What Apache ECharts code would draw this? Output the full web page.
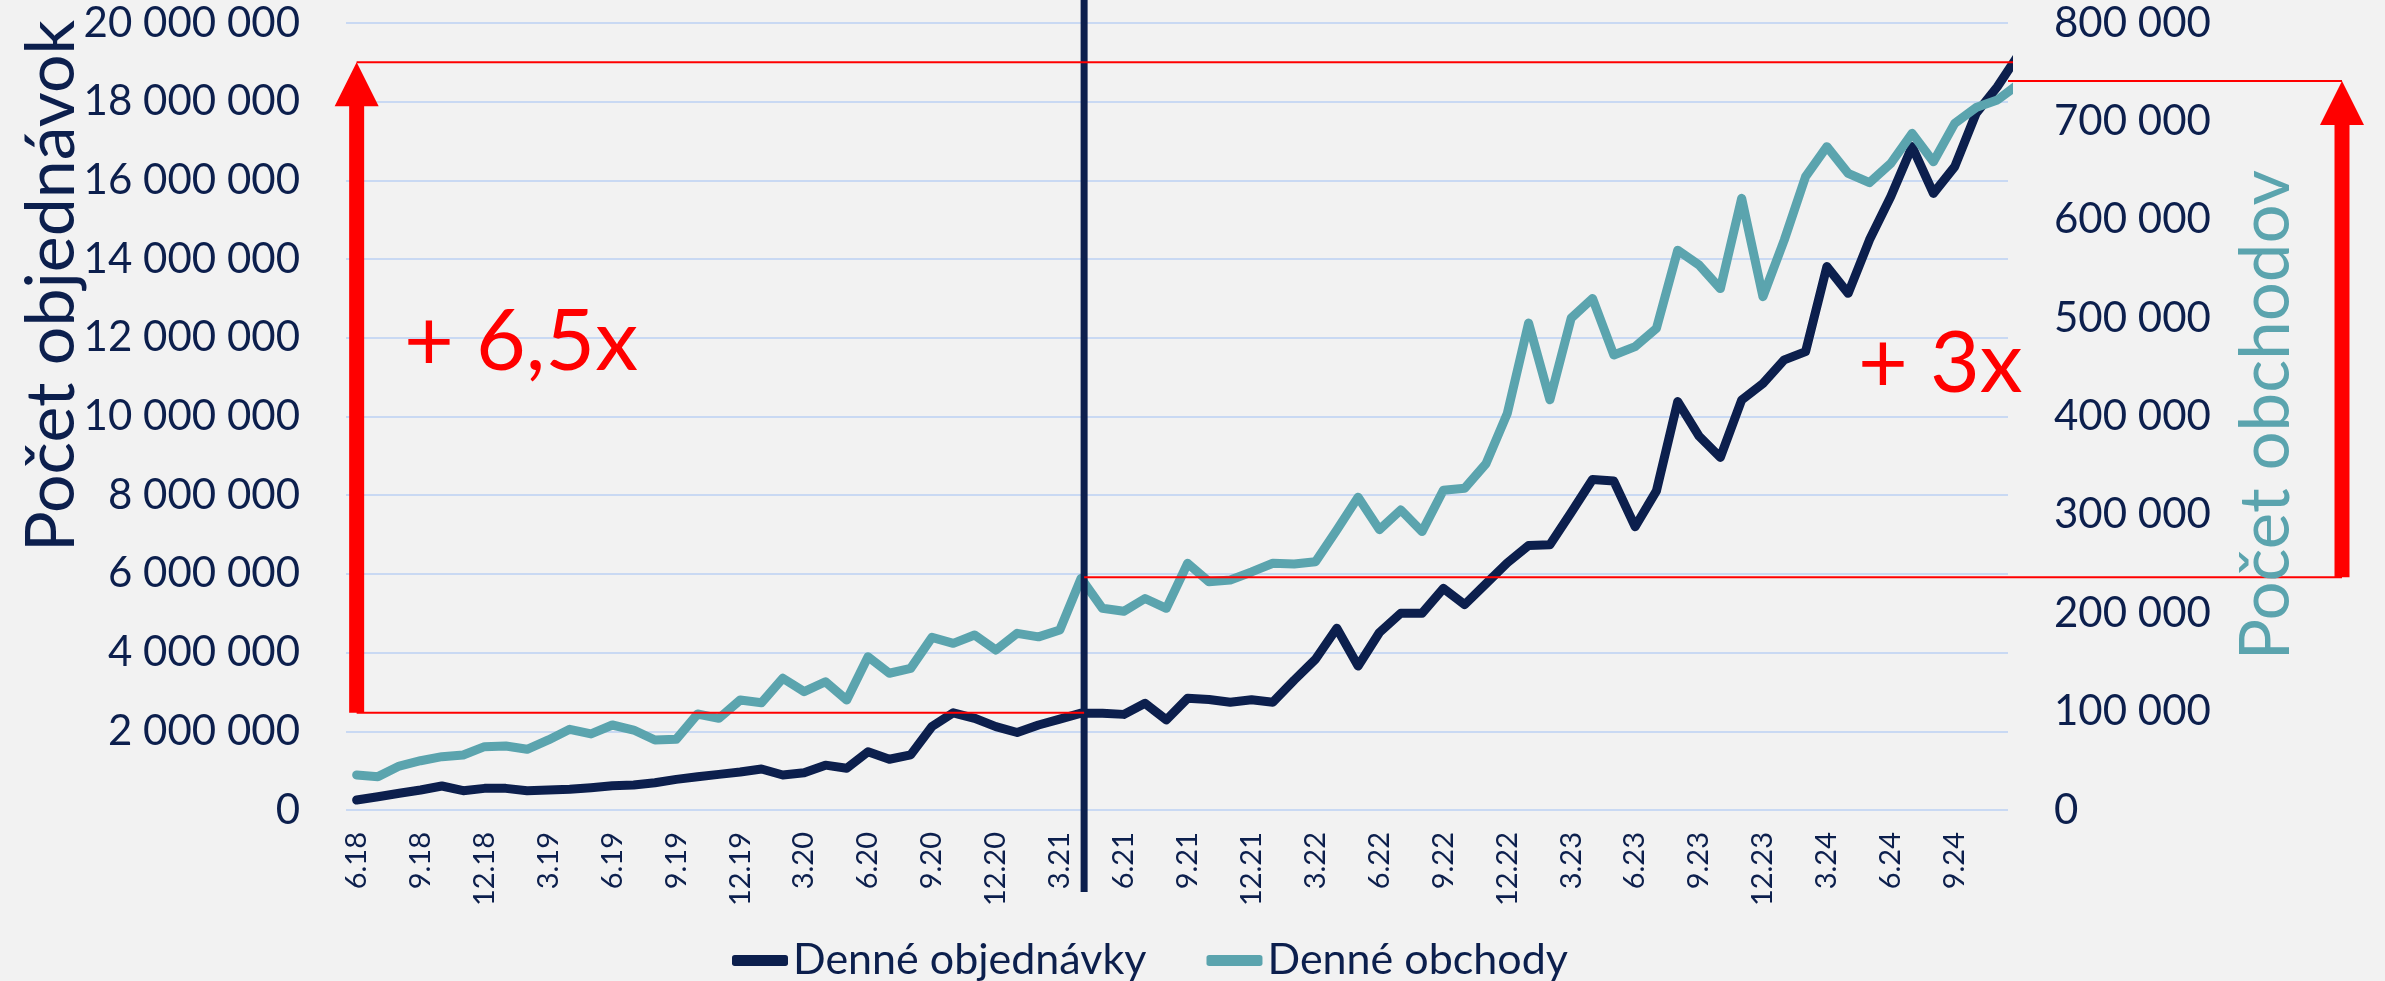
<!DOCTYPE html>
<html>
<head>
<meta charset="utf-8">
<title>Denné objednávky a obchody</title>
<script src="https://cdn.jsdelivr.net/npm/echarts@6.0.0/dist/echarts.min.js"></script>
<style>
    html, body { margin: 0; padding: 0; background: #F2F2F2; }
    #chart { width: 2385px; height: 981px; }
</style>
</head>
<body>
<div id="chart"></div>
<script>
// mesiace (posledný 12.24 je za okrajom grafu, čiara sa len oreže)
var months = [
    "6.18", "7.18", "8.18", "9.18", "10.18", "11.18", "12.18",
    "1.19", "2.19", "3.19", "4.19", "5.19", "6.19", "7.19", "8.19", "9.19", "10.19", "11.19", "12.19",
    "1.20", "2.20", "3.20", "4.20", "5.20", "6.20", "7.20", "8.20", "9.20", "10.20", "11.20", "12.20",
    "1.21", "2.21", "3.21", "4.21", "5.21", "6.21", "7.21", "8.21", "9.21", "10.21", "11.21", "12.21",
    "1.22", "2.22", "3.22", "4.22", "5.22", "6.22", "7.22", "8.22", "9.22", "10.22", "11.22", "12.22",
    "1.23", "2.23", "3.23", "4.23", "5.23", "6.23", "7.23", "8.23", "9.23", "10.23", "11.23", "12.23",
    "1.24", "2.24", "3.24", "4.24", "5.24", "6.24", "7.24", "8.24", "9.24", "10.24", "11.24", "12.24"
];

// Denné objednávky (ľavá os)
var orders = [
    254000, 338000, 424000, 508000, 610000, 491000, 550000,
    550000, 491000, 508000, 525000, 567000, 618000, 635000, 694000, 779000, 847000, 906000, 965000,
    1042000, 889000, 948000, 1140000, 1060000, 1480000, 1290000, 1400000, 2120000, 2470000, 2330000, 2120000,
    1970000, 2160000, 2310000, 2460000, 2460000, 2430000, 2710000, 2290000, 2840000, 2810000, 2740000, 2800000,
    2740000, 3300000, 3830000, 4620000, 3660000, 4510000, 5000000, 5000000, 5630000, 5220000, 5750000, 6280000,
    6720000, 6740000, 7560000, 8400000, 8360000, 7200000, 8110000, 10380000, 9500000, 8960000, 10420000, 10840000,
    11440000, 11650000, 13810000, 13130000, 14490000, 15590000, 16860000, 15670000, 16350000, 17700000, 18380000, 19200000
];

// Denné obchody (pravá os)
var shops = [
    35600, 33900, 44700, 50100, 54200, 55900, 64400,
    65100, 61700, 71200, 82000, 77300, 86400, 81300, 71200, 71900, 97600, 93200, 111800,
    109100, 133900, 120300, 130400, 111800, 155800, 139000, 144000, 175500, 169400, 177900, 162600,
    179600, 176000, 183000, 235500, 205000, 202000, 215000, 205000, 250800, 232000, 233800, 242000,
    250800, 250000, 252400, 284600, 318000, 285000, 305000, 283000, 325000, 327000, 352000, 403000,
    495000, 417000, 500000, 520000, 462500, 471000, 489600, 569000, 554000, 530000, 621800, 521800,
    579400, 643800, 674300, 647200, 637700, 657300, 687800, 659000, 698000, 714000, 721700, 738000
];

// anotácie: zlom (4.21) a úrovne šípok
var markMonth = "4.21";
var ordersFrom = 2470000;
var ordersTo = 19000000;
var shopsFrom = 236500;
var shopsTo = 741000;

var navy = "#0C1F4D";
var teal = "#5BA4AE";
var red = "#FF0000";
var font = "Lato";

function spaced(v) {
    // 20 000 000
    return String(v).replace(/\B(?=(\d{3})+(?!\d))/g, " ");
}

(function () {
    // 1. inicializácia
    var myChart = echarts.init(document.getElementById("chart"));

    // 2. konfigurácia
    var option = {
        backgroundColor: "#F2F2F2",
        animation: false,
        textStyle: { fontFamily: font },
        grid: {
            left: 346,
            right: 377,
            top: 23,
            bottom: 171
        },
        legend: {
            left: 727,
            top: 934,
            itemWidth: 56,
            itemHeight: 11,
            itemGap: 60,
            icon: "roundRect",
            textStyle: { color: navy, fontSize: 43, fontFamily: font },
            data: ["Denné objednávky", "Denné obchody"]
        },
        xAxis: {
            type: "category",
            data: months,
            boundaryGap: true,
            max: months.length - 2, // 12.24 už nie je vidieť
            axisLine: { show: false },
            axisTick: { show: false },
            axisLabel: {
                interval: 2,
                rotate: 90,
                margin: 22,
                color: navy,
                fontSize: 29,
                fontFamily: font
            }
        },
        yAxis: [
            {
                type: "value",
                min: 0,
                max: 20000000,
                interval: 2000000,
                axisLine: { show: false },
                axisTick: { show: false },
                axisLabel: {
                    margin: 46,
                    color: navy,
                    fontSize: 42,
                    fontFamily: font,
                    formatter: spaced
                },
                splitLine: {
                    lineStyle: { color: "#C9D9F3", width: 2 }
                }
            },
            {
                type: "value",
                min: 0,
                max: 800000,
                interval: 100000,
                axisLine: { show: false },
                axisTick: { show: false },
                axisLabel: {
                    margin: 46,
                    color: navy,
                    fontSize: 42,
                    fontFamily: font,
                    formatter: spaced
                },
                splitLine: { show: false }
            }
        ],
        series: [
            {
                name: "Denné objednávky",
                type: "line",
                yAxisIndex: 0,
                data: orders,
                symbol: "none",
                clip: true,
                color: navy,
                lineStyle: { color: navy, width: 9, cap: "round", join: "round" }
            },
            {
                name: "Denné obchody",
                type: "line",
                yAxisIndex: 1,
                data: shops,
                symbol: "none",
                clip: true,
                color: teal,
                lineStyle: { color: teal, width: 9, cap: "round", join: "round" }
            }
        ]
    };

    // 3. nastavenie
    myChart.setOption(option);

    // 4. šípky, čiary a popisy cez súradnice osí
    function addNotes() {
        var xFirst = myChart.convertToPixel({ xAxisIndex: 0 }, 0);
        var xMark = myChart.convertToPixel({ xAxisIndex: 0 }, months.indexOf(markMonth)) + 3;
        var gridRight = 2385 - 377;
        var xArrowR = gridRight + 334;
        var yOrdLo = myChart.convertToPixel({ yAxisIndex: 0 }, ordersFrom);
        var yOrdHi = myChart.convertToPixel({ yAxisIndex: 0 }, ordersTo);
        var yShopLo = myChart.convertToPixel({ yAxisIndex: 1 }, shopsFrom);
        var yShopHi = myChart.convertToPixel({ yAxisIndex: 1 }, shopsTo);

        function redLine(x1, y1, x2, y2) {
            return {
                type: "line",
                z: 50,
                shape: { x1: x1, y1: y1, x2: x2, y2: y2 },
                style: { stroke: red, lineWidth: 2 }
            };
        }

        function arrow(x, yBottom, yTip) {
            var head = 44, half = 22, shaft = 7.5;
            return {
                type: "polygon",
                z: 51,
                shape: {
                    points: [
                        [x - shaft, yBottom], [x - shaft, yTip + head], [x - half, yTip + head],
                        [x, yTip], [x + half, yTip + head], [x + shaft, yTip + head], [x + shaft, yBottom]
                    ]
                },
                style: { fill: red }
            };
        }

        myChart.setOption({
            graphic: [
                // zvislá čiara zlomu
                {
                    type: "line",
                    z: 40,
                    shape: { x1: xMark, y1: 0, x2: xMark, y2: 892 },
                    style: { stroke: navy, lineWidth: 7 }
                },
                redLine(xFirst, yOrdLo, xMark, yOrdLo),
                redLine(xFirst, yOrdHi, gridRight + 5, yOrdHi),
                redLine(gridRight, yShopHi, xArrowR, yShopHi),
                redLine(xMark, yShopLo, xArrowR, yShopLo),
                arrow(xFirst, yOrdLo, yOrdHi),
                arrow(xArrowR, yShopLo, yShopHi),
                {
                    type: "text",
                    z: 52,
                    x: 404,
                    y: 342,
                    style: {
                        text: "+ 6,5x", fill: red, fontSize: 86, fontFamily: font,
                        textAlign: "left", textVerticalAlign: "middle"
                    }
                },
                {
                    type: "text",
                    z: 52,
                    x: 1858,
                    y: 364,
                    style: {
                        text: "+ 3x", fill: red, fontSize: 86, fontFamily: font,
                        textAlign: "left", textVerticalAlign: "middle"
                    }
                },
                // názvy osí
                {
                    type: "text",
                    z: 52,
                    x: 52,
                    y: 286,
                    rotation: Math.PI / 2,
                    style: {
                        text: "Počet objednávok", fill: navy, fontSize: 68, fontFamily: font,
                        textAlign: "center", textVerticalAlign: "middle"
                    }
                },
                {
                    type: "text",
                    z: 52,
                    x: 2267,
                    y: 415,
                    rotation: Math.PI / 2,
                    style: {
                        text: "Počet obchodov", fill: teal, fontSize: 69, fontFamily: font,
                        textAlign: "center", textVerticalAlign: "middle"
                    }
                }
            ]
        });
    }
    addNotes();

    // 5. prispôsobenie veľkosti
    window.addEventListener("resize", function () {
        myChart.resize();
        addNotes();
    });
})();
</script>
</body>
</html>
